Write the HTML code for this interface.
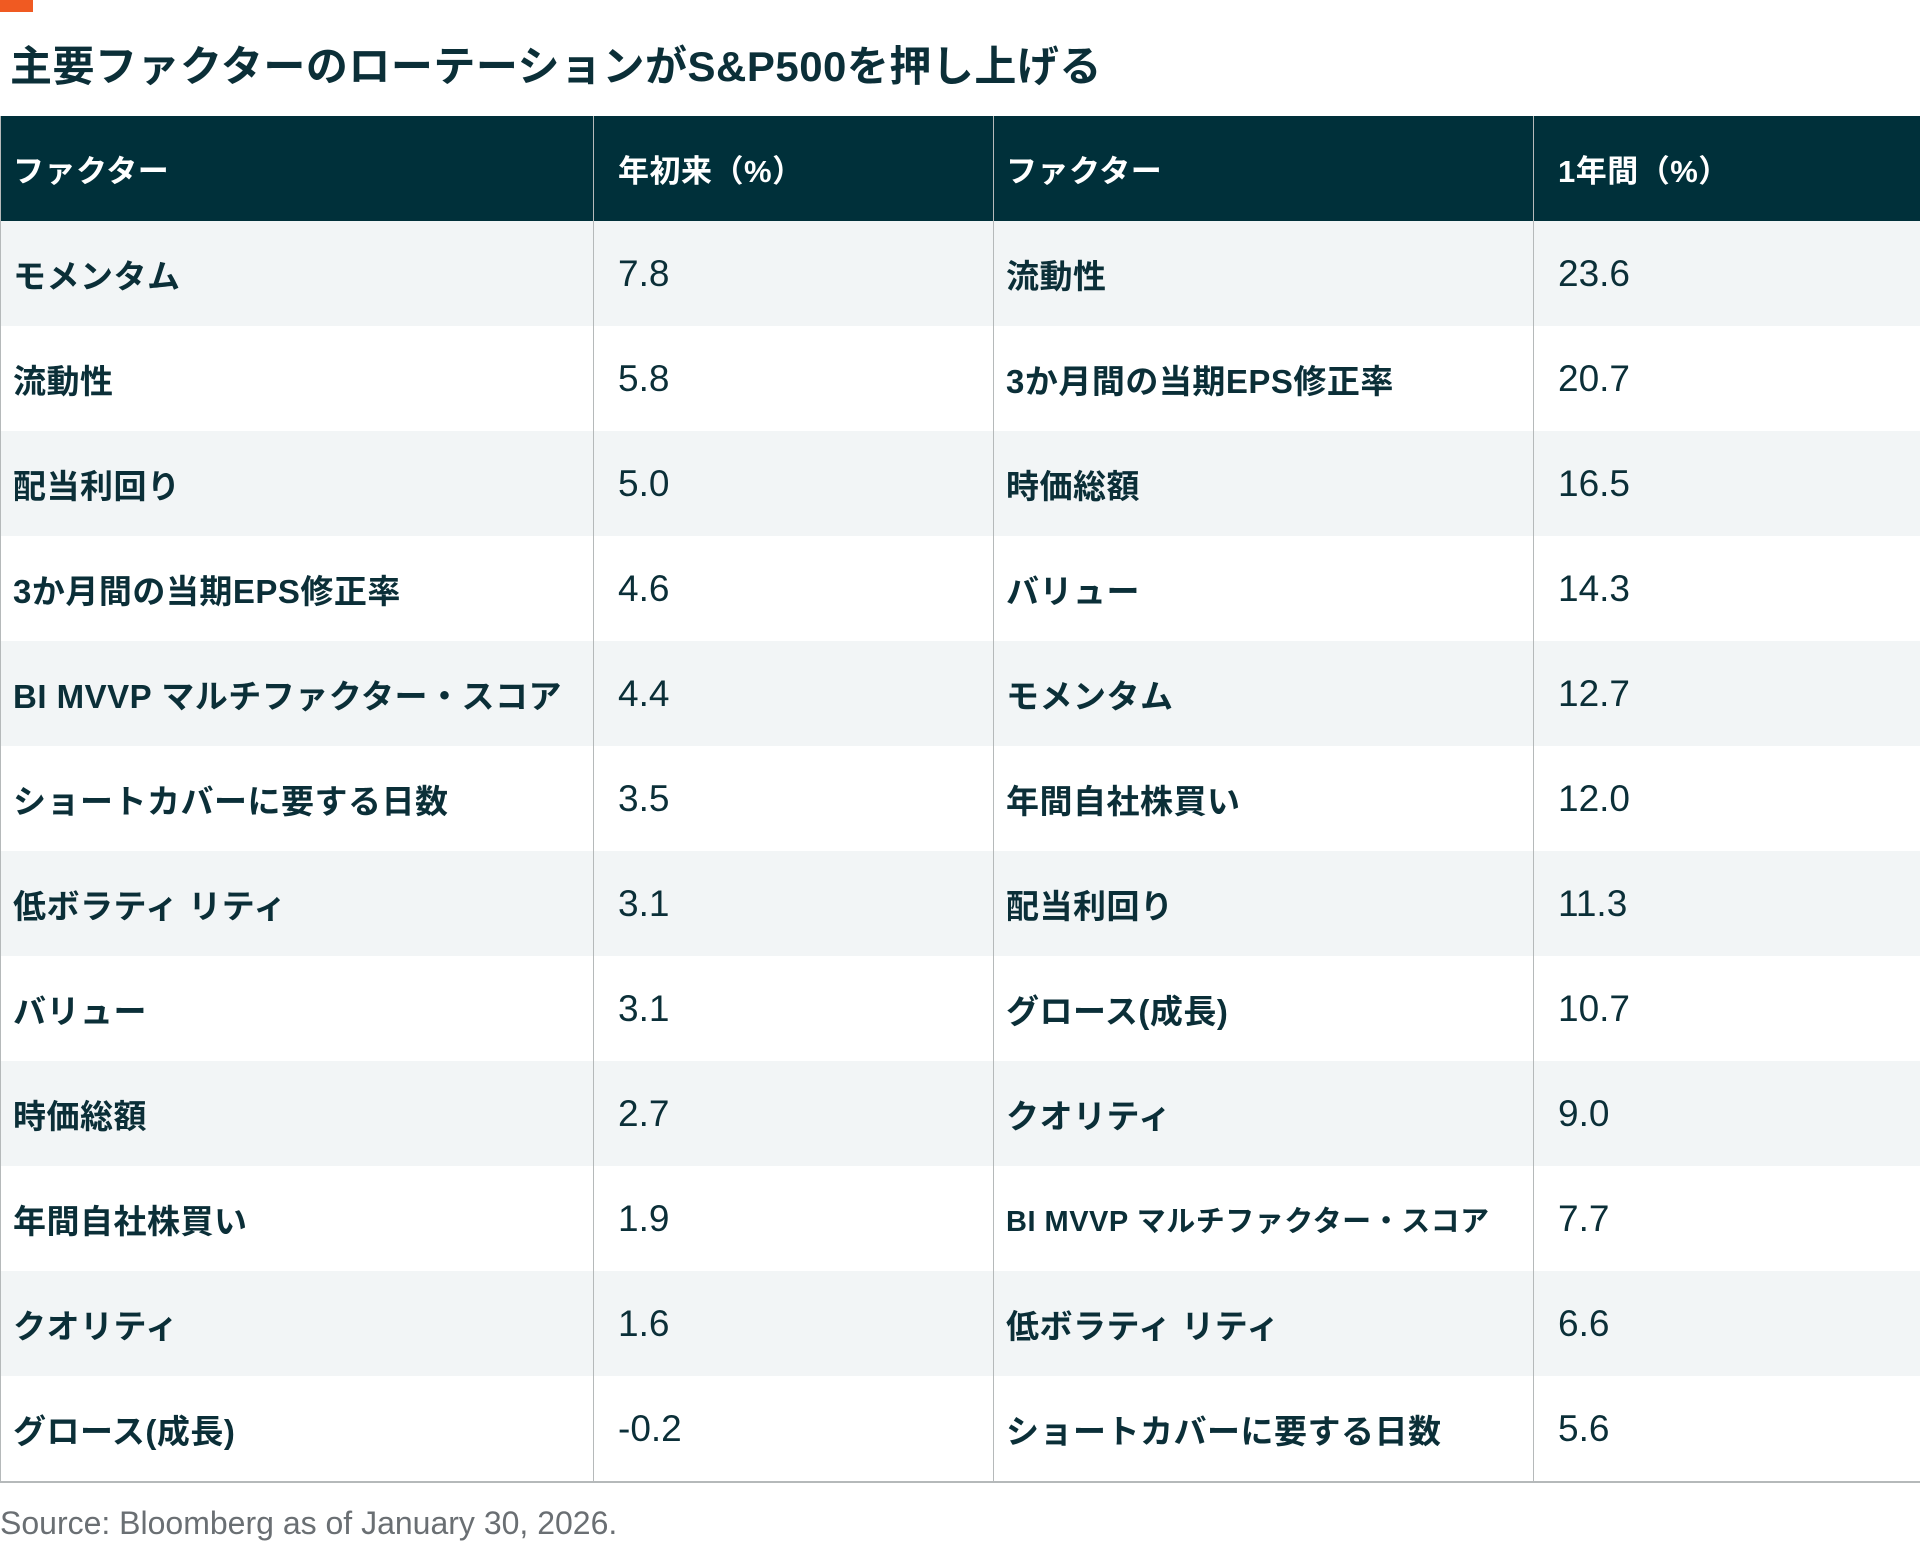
<!DOCTYPE html>
<html><head><meta charset="utf-8"><style>
body{margin:0;width:1920px;height:1545px;background:#fff;position:relative;overflow:hidden;font-family:"Liberation Sans","Noto Sans CJK JP",sans-serif;color:#0b2f38}
#bar{position:absolute;left:0;top:0;width:33px;height:12px;background:#f05a22}
#title{position:absolute;left:10px;top:33px;font-size:42px;font-weight:bold;letter-spacing:0.5px;white-space:nowrap}
table{position:absolute;left:0;top:116px;width:1920px;border-collapse:collapse;table-layout:fixed}
td,th{height:105px;padding:0 0 0 12px;text-align:left;border-left:1px solid #b5b9ba;border-right:1px solid #b5b9ba;white-space:nowrap}
th{background:#00303a;color:#fff;font-size:31px;font-weight:bold;letter-spacing:0.5px}
td.l{font-size:33px;font-weight:bold;letter-spacing:0.5px}
td.v{font-size:37px;font-family:"Liberation Sans Narrow","Liberation Sans",sans-serif;padding-left:24px}
tr:nth-child(odd) td{background:#f2f5f6}
tr:last-child td{border-bottom:2px solid #b5b9ba}
#src{position:absolute;left:0;top:1505px;font-size:32px;color:#6a6f73;font-family:"Liberation Sans Narrow","Liberation Sans",sans-serif}
</style></head><body>
<div id="bar"></div>
<div id="title">主要ファクターのローテーションがS&amp;P500を押し上げる</div>
<table>
<colgroup><col style="width:593px"><col style="width:400px"><col style="width:540px"><col style="width:387px"></colgroup>
<thead><tr><th>ファクター</th><th style="padding-left:24px">年初来（%）</th><th>ファクター</th><th style="padding-left:24px">1年間（%）</th></tr></thead>
<tbody id="tb"></tbody></table>
<div id="src">Source: Bloomberg as of January 30, 2026.</div>
<script>
const ytdFactors=["モメンタム","流動性","配当利回り","3か月間の当期EPS修正率","BI MVVP マルチファクター・スコア","ショートカバーに要する日数","低ボラティ リティ","バリュー","時価総額","年間自社株買い","クオリティ","グロース(成長)"];
const ytdValues=["7.8","5.8","5.0","4.6","4.4","3.5","3.1","3.1","2.7","1.9","1.6","-0.2"];
const yearFactors=["流動性","3か月間の当期EPS修正率","時価総額","バリュー","モメンタム","年間自社株買い","配当利回り","グロース(成長)","クオリティ","BI MVVP マルチファクター・スコア","低ボラティ リティ","ショートカバーに要する日数"];
const yearValues=["23.6","20.7","16.5","14.3","12.7","12.0","11.3","10.7","9.0","7.7","6.6","5.6"];
const tb=document.getElementById('tb');
ytdFactors.forEach((f,i)=>{
  const tr=document.createElement('tr');
  
  
  const cells=[[f,'l'],[ytdValues[i],'v'],[yearFactors[i],'l'],[yearValues[i],'v']];
  cells.forEach((c,j)=>{
    const td=document.createElement('td');
    td.className=c[1];
    td.textContent=c[0];
    if(j===2&&c[0].length>14)td.style.fontSize='29px';
    
    
    tr.appendChild(td);
  });
  tb.appendChild(tr);
});
</script>
</body></html>
